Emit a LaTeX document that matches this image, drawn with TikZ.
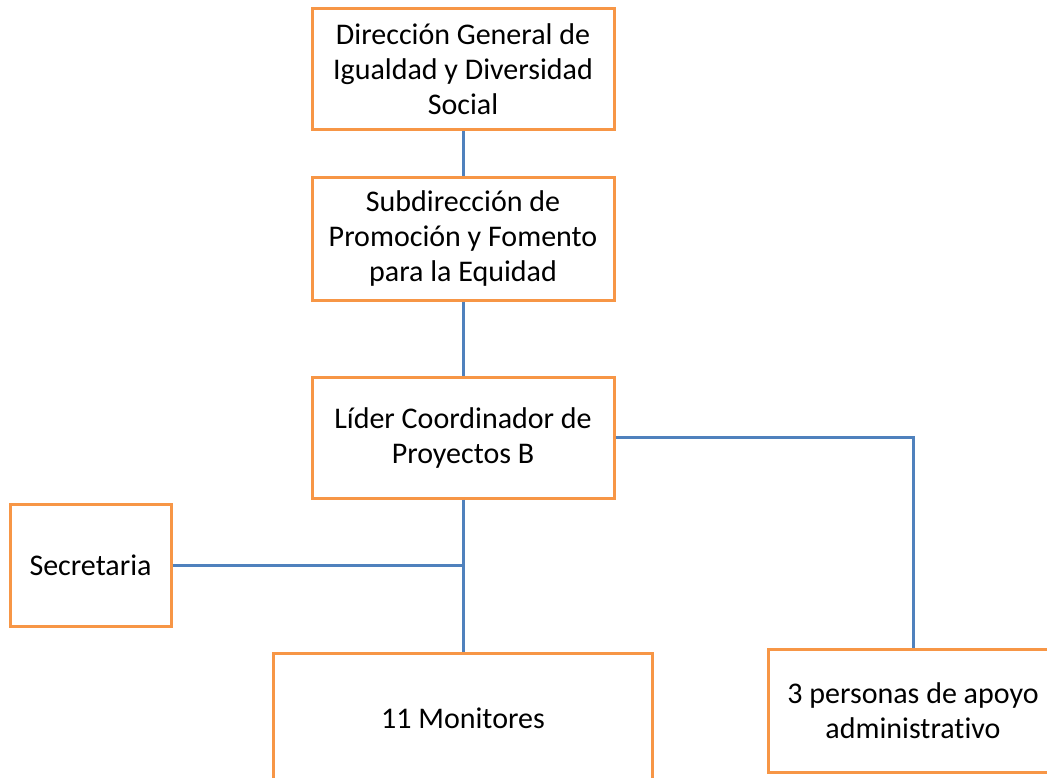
\documentclass[tikz,border=0pt]{standalone}
\usepackage{fontspec}
\setmainfont[Ligatures=NoCommon]{Carlito}
\definecolor{boxorange}{HTML}{F79646}
\definecolor{linkblue}{HTML}{4F81BD}
\begin{document}
\begin{tikzpicture}[x=1pt,y=-1pt,
  orgbox/.style={draw=boxorange, line width=3pt, fill=white, inner sep=0pt, align=center,
    font=\fontsize{30}{35}\selectfont, text=black},
  link/.style={draw=linkblue, line width=3pt}]
\useasboundingbox (0,0) rectangle (1047,778);
\clip (0,0) rectangle (1047,778);
\node[orgbox, minimum width=302pt, minimum height=121pt] (dg) at (463,69.5)
  {Dirección General de\\Igualdad y Diversidad\\Social};
\node[orgbox, minimum width=302pt, minimum height=122pt] (sub) at (463,239)
  {Subdirección de\\Promoción y Fomento\\para la Equidad};
\node[orgbox, minimum width=302pt, minimum height=121pt] (lid) at (463,437.5)
  {Líder Coordinador de\\Proyectos B};
\node[orgbox, minimum width=161pt, minimum height=122pt] (sec) at (90.5,565)
  {Secretaria};
\node[orgbox, minimum width=379pt, minimum height=130pt] (mon) at (463,718)
  {11 Monitores};
\node[orgbox, minimum width=290pt, minimum height=123pt] (apo) at (913,710.5)
  {3 personas de apoyo\\administrativo};
\draw[link] (dg.south) -- (sub.north);
\draw[link] (sub.south) -- (lid.north);
\draw[link] (lid.south) -- (mon.north);
\draw[link] (sec.east) -- (sec.east -| lid.south);
\draw[link] (lid.east) -| (apo.north);
\end{tikzpicture}
\end{document}
